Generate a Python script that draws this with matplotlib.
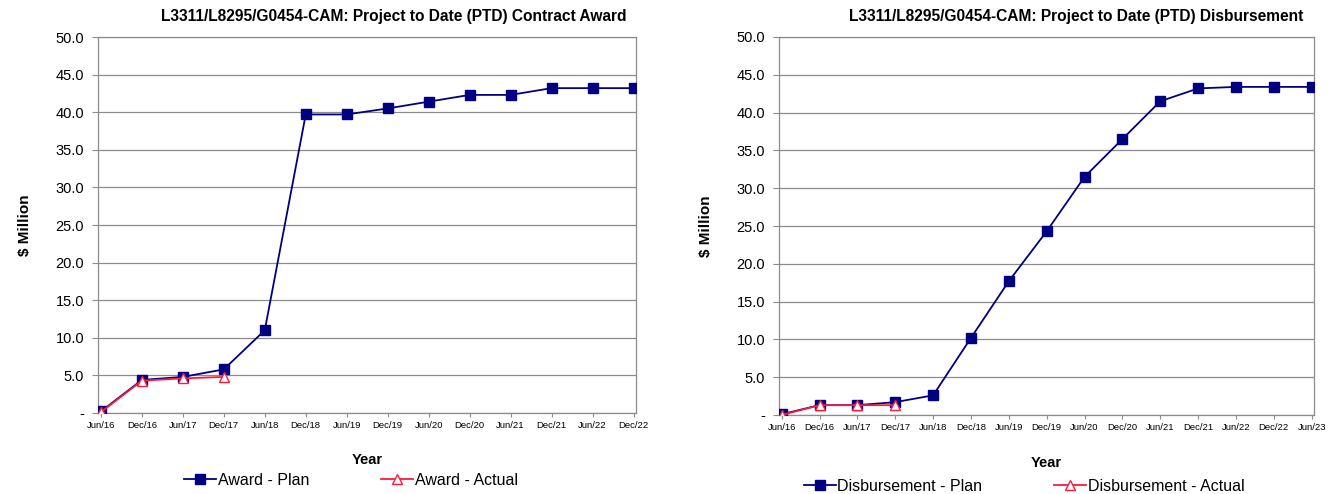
import numpy as np
import matplotlib
matplotlib.use('Agg')
import matplotlib.pyplot as plt
from matplotlib.ticker import FuncFormatter

plt.rcParams['font.family'] = ['Liberation Sans', 'DejaVu Sans']

# Contract award (PTD, $ million)
award_periods = ['Jun/16', 'Dec/16', 'Jun/17', 'Dec/17', 'Jun/18', 'Dec/18', 'Jun/19',
                 'Dec/19', 'Jun/20', 'Dec/20', 'Jun/21', 'Dec/21', 'Jun/22', 'Dec/22']
award_plan = [0.2, 4.4, 4.8, 5.8, 11.0, 39.7, 39.7, 40.5, 41.4, 42.3, 42.3, 43.2, 43.2, 43.2]
award_actual = [0.1, 4.3, 4.6, 4.8]

# Disbursement (PTD, $ million)
disb_periods = ['Jun/16', 'Dec/16', 'Jun/17', 'Dec/17', 'Jun/18', 'Dec/18', 'Jun/19', 'Dec/19',
                'Jun/20', 'Dec/20', 'Jun/21', 'Dec/21', 'Jun/22', 'Dec/22', 'Jun/23']
disb_plan = [0.1, 1.3, 1.3, 1.7, 2.6, 10.2, 17.7, 24.3, 31.5, 36.5, 41.5, 43.2, 43.4, 43.4, 43.4]
disb_actual = [0.0, 1.3, 1.3, 1.3]

NAVY = '#000080'
RED = '#ff1a3c'
GRID = '#8c8c8c'
W, H = 1333, 494


def yfmt(v, pos):
    return '-' if abs(v) < 1e-9 else f'{v:.1f}'


def draw(ax, periods, plan, actual, plan_lbl, actual_lbl, title, title_px, leg_px, year_pad):
    x = np.arange(len(periods))
    h1, = ax.plot(x, plan, color=NAVY, lw=1.3, marker='s', ms=7, mfc=NAVY, mec=NAVY, zorder=3)
    h2, = ax.plot(x[:len(actual)], actual, color=RED, lw=1.3, marker='^', ms=6.5,
                  mfc='white', mec=RED, zorder=4)
    ax.set_xlim(-0.07, len(periods) - 1 + 0.06)
    ax.set_ylim(0, 50)
    ax.set_yticks(np.arange(0, 50.1, 5))
    ax.yaxis.set_major_formatter(FuncFormatter(yfmt))
    ax.set_xticks(x)
    ax.set_xticklabels(periods, fontsize=6.8)
    ax.tick_params(axis='y', labelsize=10.5, length=4, color=GRID, pad=6)
    ax.tick_params(axis='x', length=3, color=GRID, pad=3)
    ax.grid(axis='y', color=GRID, lw=0.9)
    ax.set_axisbelow(True)
    for s in ax.spines.values():
        s.set_color(GRID)
        s.set_linewidth(0.9)
    ax.set_ylabel('$ Million', fontsize=11, fontweight='bold', labelpad=17)
    ax.set_xlabel('Year', fontsize=10.5, fontweight='bold', labelpad=year_pad)
    fig.text(title_px / W, 1 - 17 / H, title, ha='center', va='center',
             fontsize=11.2, fontweight='bold')
    fig.legend([h1, h2], [plan_lbl, actual_lbl], loc='center',
               bbox_to_anchor=(leg_px[0] / W, 1 - leg_px[1] / H), ncol=2, frameon=False,
               fontsize=11.5, columnspacing=4.5, handlelength=2.0, handletextpad=0.1,
               borderpad=0, borderaxespad=0)


fig = plt.figure(figsize=(W / 100, H / 100), dpi=100)
ax1 = fig.add_axes([98 / W, 1 - 413 / H, 538 / W, 376 / H])
ax2 = fig.add_axes([779 / W, 1 - 415 / H, 535 / W, 378 / H])

draw(ax1, award_periods, award_plan, award_actual, 'Award - Plan', 'Award - Actual',
     'L3311/L8295/G0454-CAM: Project to Date (PTD) Contract Award', 394, (351, 480), 16)
draw(ax2, disb_periods, disb_plan, disb_actual, 'Disbursement - Plan', 'Disbursement - Actual',
     'L3311/L8295/G0454-CAM: Project to Date (PTD) Disbursement', 1076, (1024, 486), 17)

fig.savefig('out.png', dpi=100)
